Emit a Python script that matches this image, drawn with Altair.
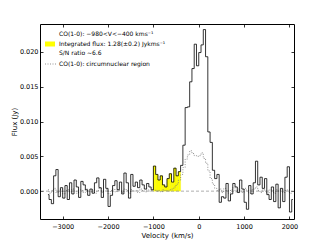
import altair as alt
import pandas as pd

# channel centres (km/s), 50 km/s channels
velocity = [-3325 + 50 * i for i in range(109)]

flux_total = [
    -0.0005, -0.0012, -0.0018, 0.0022, 0.0031, -0.0008, 0.0005, -0.0010, 0.0008, -0.0012,
    0.0012, -0.0004, 0.0016, 0.0006, -0.0009, 0.0014, 0.0009, 0.0002, -0.0006, 0.0003,
    -0.0003, 0.0012, 0.0019, 0.0005, -0.0009, 0.0017, 0.0004, -0.0022, -0.0006, 0.0008,
    0.0015, 0.0002, 0.0013, -0.0004, 0.0026, 0.0012, -0.0010, 0.0024, 0.0007, 0.0013,
    0.0005, 0.0016, 0.0009, 0.0003, 0.0011, 0.0006, 0.0002,
    # -975 .. -425
    0.0036, 0.0024, 0.0016, 0.0022, 0.0009, 0.0006, 0.0018, 0.0025, 0.0013, 0.0033,
    0.0022, 0.0028,
    # -375 .. 425
    0.0037, 0.0066, 0.0120, 0.0121, 0.0157, 0.0176, 0.0211, 0.0180, 0.0199, 0.0210,
    0.0232, 0.0193, 0.0085, 0.0070, 0.0030, 0.0018, 0.0024,
    # 475 .. 2075
    -0.0016, -0.0008, -0.0010, 0.0011, -0.0014, -0.0004, 0.0011, 0.0006, -0.0002, 0.0016,
    0.0003, -0.0016, -0.0026, 0.0008, -0.0004, 0.0012, 0.0043, 0.0009, 0.0020, 0.0004,
    0.0018, -0.0005, -0.0012, 0.0006, -0.0015, 0.0010, -0.0024, 0.0004, -0.0015, 0.0020,
    0.0035, -0.0030, -0.0012,
]

flux_nuclear = [
    0.0002, -0.0003, 0.0001, 0.0004, -0.0002, 0.0000, 0.0003, -0.0004, 0.0001, 0.0002,
    -0.0001, 0.0003, 0.0000, -0.0003, 0.0002, 0.0001, -0.0002, 0.0003, 0.0000, -0.0001,
    0.0002, -0.0003, 0.0001, 0.0004, -0.0002, 0.0000, 0.0002, -0.0004, 0.0001, 0.0003,
    -0.0001, 0.0002, 0.0000, -0.0002, 0.0003, 0.0001, -0.0003, 0.0002, 0.0000, 0.0001,
    -0.0002, 0.0003, 0.0001, -0.0001, 0.0002, 0.0000, 0.0001,
    # -975 .. -425
    0.0002, 0.0000, 0.0001, -0.0001, 0.0002, 0.0001, 0.0000, 0.0002, 0.0003, 0.0006,
    0.0010, 0.0016,
    # -375 .. 425
    0.0024, 0.0034, 0.0046, 0.0052, 0.0058, 0.0054, 0.0051, 0.0050, 0.0051, 0.0055,
    0.0047, 0.0040, 0.0029, 0.0018, 0.0010, 0.0004, 0.0001,
    # 475 .. 2075
    0.0003, -0.0002, 0.0004, 0.0001, -0.0003, 0.0002, 0.0005, -0.0001, 0.0003, 0.0000,
    -0.0002, 0.0004, 0.0001, -0.0003, 0.0002, 0.0003, 0.0006, 0.0001, -0.0002, 0.0003,
    0.0000, -0.0004, 0.0002, 0.0001, -0.0003, 0.0002, 0.0000, 0.0003, -0.0002, 0.0001,
    0.0002, -0.0003, 0.0000,
]

x_ticks = [-3000, -2000, -1000, 0, 1000, 2000]
y_ticks = [0.0, 0.005, 0.010, 0.015, 0.020]
x_domain = [-3500, 2100]
y_domain = [-0.004, 0.024]
window = [-1000, -400]

legend_lines = [
    "CO(1-0): \u2212980<V<\u2212400 kms\u207b\u00b9",
    "Integrated flux: 1.28(\u00b10.2) Jykms\u207b\u00b9",
    "S/N ratio ~6.6",
    "CO(1-0): circumnuclear region",
]

df = pd.DataFrame({"v": velocity, "f": flux_total, "n": flux_nuclear})
FONT = "DejaVu Sans"

xs = alt.Scale(domain=x_domain, nice=False, zero=False)
ys = alt.Scale(domain=y_domain, nice=False, zero=False)

def tick_axis(orient, values):
    return alt.Axis(orient=orient, offset=-3, values=values, labels=False, domain=False,
                    grid=False, tickSize=3, tickColor="black", tickWidth=0.8, title=None)

base = alt.Chart(df)

yellow = base.transform_filter(
    (alt.datum.v > window[0]) & (alt.datum.v < window[1])
).transform_calculate(
    v0="datum.v - 25", v1="datum.v + 25", z="0"
).mark_rect(color="#ffff00", stroke="#e8e800", strokeWidth=0.3).encode(
    x=alt.X("v0:Q", scale=xs, axis=alt.Axis(orient="bottom", values=x_ticks, format="d",
            tickSize=0, labelPadding=4, domain=False, grid=False, title="Velocity (km/s)",
            titlePadding=2)),
    x2="v1:Q",
    y=alt.Y("f:Q", scale=ys, axis=alt.Axis(orient="left", values=y_ticks, format=".3f",
            tickSize=0, labelPadding=2, domain=False, grid=False, title="Flux (Jy)",
            titlePadding=2)),
    y2="z:Q",
)

main = base.mark_line(interpolate="step", color="black", strokeWidth=0.8, clip=True).encode(
    x=alt.X("v:Q", scale=xs, axis=tick_axis("bottom", x_ticks)),
    y=alt.Y("f:Q", scale=ys, axis=tick_axis("left", y_ticks)),
)

nuclear = base.mark_line(interpolate="step", color="#777777", strokeWidth=0.8,
                         strokeDash=[1, 1.5], clip=True).encode(
    x=alt.X("v:Q", scale=xs, axis=tick_axis("top", x_ticks)),
    y=alt.Y("n:Q", scale=ys, axis=tick_axis("right", y_ticks)),
)

zero = alt.Chart(pd.DataFrame({"z": [0.0]})).mark_rule(
    color="#999999", strokeDash=[3, 2], strokeWidth=0.8
).encode(y=alt.Y("z:Q", scale=ys, axis=None))

leg_y = [9.5, 20, 28.5, 40]
leg_texts = [
    alt.Chart(pd.DataFrame({"t": [txt]})).mark_text(
        align="left", baseline="middle", font=FONT, fontSize=6, color="black"
    ).encode(text="t:N", x=alt.value(19), y=alt.value(yy))
    for txt, yy in zip(legend_lines, leg_y)
]

leg_patch = alt.Chart(pd.DataFrame({"k": ["patch"]})).mark_rect(color="#ffff00").encode(
    x=alt.value(5), x2=alt.value(15), y=alt.value(17.5), y2=alt.value(22.5)
)
leg_dots = alt.Chart(pd.DataFrame({"k": ["dots"]})).mark_rule(
    color="#777777", strokeDash=[1, 1.5], strokeWidth=0.8
).encode(x=alt.value(5), x2=alt.value(16), y=alt.value(40))

chart = alt.layer(yellow, zero, nuclear, main, *leg_texts, leg_patch, leg_dots).resolve_scale(
    x="independent", y="independent"
).properties(
    width=254, height=195,
    autosize=alt.AutoSizeParams(type="none"),
    padding={"left": 32, "top": 16, "right": 25, "bottom": 30},
).configure_view(stroke="black", strokeWidth=1).configure_axis(
    labelFont=FONT, labelFontSize=6.5, titleFont=FONT, titleFontSize=7,
    titleFontWeight="normal", labelColor="black", titleColor="black"
)

chart.save("out.html", embed_options={"renderer": "svg", "actions": False})
